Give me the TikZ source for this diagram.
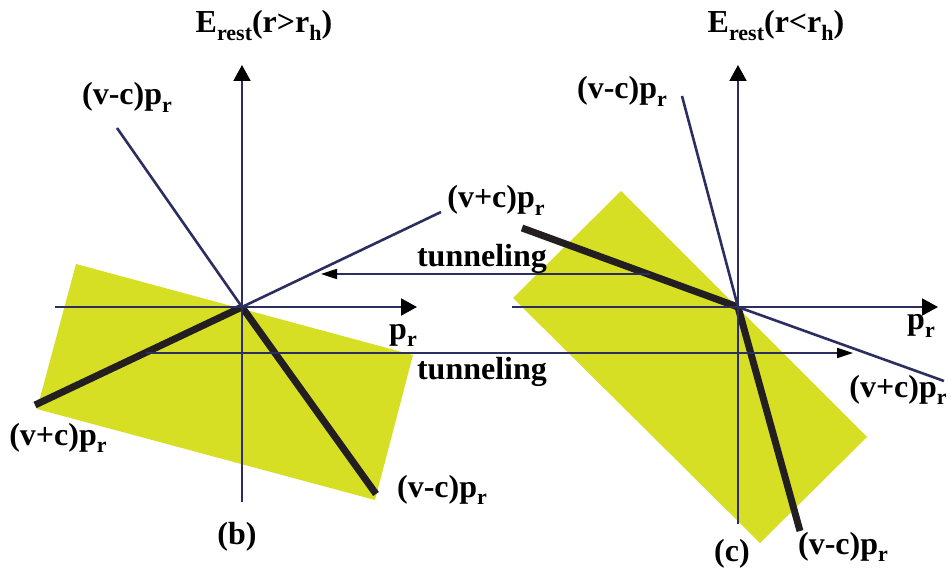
\documentclass[tikz,border=0pt]{standalone}
\usepackage{fontspec}
\setmainfont{Liberation Serif}
\usetikzlibrary{arrows.meta}
\definecolor{navy}{RGB}{44,46,96}
\definecolor{lime}{RGB}{214,223,35}
\definecolor{ink}{RGB}{35,31,32}
\newcommand{\lowsub}[1]{\raisebox{-0.22em}{\fontsize{22}{22}\selectfont #1}}
\begin{document}
\begin{tikzpicture}[x=1pt,y=-1pt,
  axis/.style={draw=navy,line width=2pt,-{Triangle[length=16pt,width=17pt,color=black]}},
  tunnel/.style={draw=navy,line width=1.7pt,-{Triangle[length=16pt,width=10pt,color=black]}},
  thinline/.style={draw=navy,line width=2.6pt},
  thickline/.style={draw=ink,line width=7pt},
  region/.style={fill=lime,draw=none},
  lbl/.style={font=\fontsize{32}{32}\selectfont\bfseries,inner sep=0pt,anchor=base}]
\useasboundingbox (0,0) rectangle (951,572);
% ---------- left diagram coordinates
\coordinate (O1) at (242,307);
\coordinate (yb1) at (242,502);
\coordinate (yt1) at (242,65);
\coordinate (xl1) at (55,307);
\coordinate (xr1) at (417,307);
\coordinate (a1) at (117,128);
\coordinate (a2) at (376,494);
\coordinate (b1) at (441,212);
\coordinate (b2) at (35,405);
% ---------- right diagram coordinates
\coordinate (O2) at (738,307);
\coordinate (yb2) at (738,524);
\coordinate (yt2) at (738,65);
\coordinate (xl2) at (512,307);
\coordinate (xr2) at (938,307);
\coordinate (c1) at (682,96);
\coordinate (c2) at (800,531);
\coordinate (d1) at (522,228);
\coordinate (d2) at (944,381);
% tunneling ends
\coordinate (t1s) at (650,274);
\coordinate (t1e) at (321,274);
\coordinate (t2s) at (146,353);
\coordinate (t2e) at (853,353);
% ---------- regions
\fill[region] (76,264) -- (413,355) -- (375,500) -- (37,409) -- cycle;
\fill[region] (621,191) -- (867,437) -- (760,543) -- (513,298) -- cycle;
% ---------- thick branches
\draw[thickline] (O1) -- (a2);
\draw[thickline] (O1) -- (b2);
\draw[thickline] (O2) -- (c2);
\draw[thickline] (O2) -- (d1);
% ---------- thin branches
\draw[thinline] (a1) -- (O1);
\draw[thinline] (O1) -- (b1);
\draw[thinline] (c1) -- (O2);
\draw[thinline] (O2) -- (d2);
% ---------- axes
\draw[axis] (yb1) -- (yt1);
\draw[axis] (xl1) -- (xr1);
\draw[axis] (yb2) -- (yt2);
\draw[axis] (xl2) -- (xr2);
% ---------- tunneling
\draw[tunnel] (t1s) -- (t1e);
\draw[tunnel] (t2s) -- (t2e);
% ---------- labels
\node[lbl] (E1) at (264,33) {E\lowsub{rest}(r>r\lowsub{h})};
\node[lbl] (E2) at (776,33) {E\lowsub{rest}(r<r\lowsub{h})};
\node[lbl] (la1) at (127,105) {(v-c)p\lowsub{r}};
\node[lbl] (lb1) at (496,208) {(v+c)p\lowsub{r}};
\node[lbl] (tun1) at (482,267) {tunneling};
\node[lbl] (px1) at (403,339) {p\lowsub{r}};
\node[lbl] (tun2) at (482,379) {tunneling};
\node[lbl] (lb2) at (58,445) {(v+c)p\lowsub{r}};
\node[lbl] (la2) at (442,497) {(v-c)p\lowsub{r}};
\node[lbl] (capb) at (237,544) {(b)};
\node[lbl] (lc1) at (622,99) {(v-c)p\lowsub{r}};
\node[lbl] (px2) at (921,330) {p\lowsub{r}};
\node[lbl] (ld2) at (898,397) {(v+c)p\lowsub{r}};
\node[lbl] (lc2) at (843,554) {(v-c)p\lowsub{r}};
\node[lbl] (capc) at (732,561) {(c)};
\end{tikzpicture}
\end{document}
